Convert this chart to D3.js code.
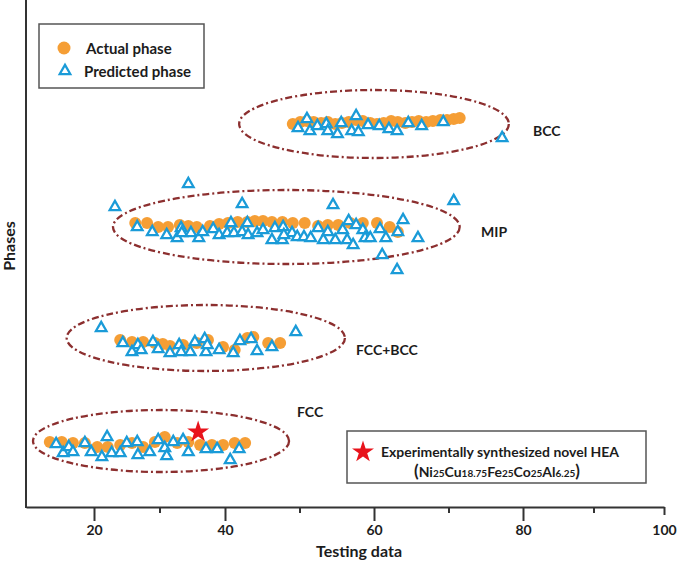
<!DOCTYPE html>
<html><head><meta charset="utf-8">
<script src="https://cdn.jsdelivr.net/npm/d3@7"></script>
<style>
body{margin:0;background:#fff}
svg{display:block}
text{font-family:Lato,'Open Sans',sans-serif;font-weight:bold;fill:#1c1c1c}
</style></head>
<body><svg id="c" width="685" height="570"></svg>
<script>
// ---------- data ----------
const xTicks = [20, 40, 60, 80, 100];
const xMinorTicks = [30, 50, 70, 90];
const xDomainStops = [10.3, 20, 40, 60, 80, 100];

const phaseNames = ["FCC", "FCC+BCC", "MIP", "BCC"];
const ellipseXMin = [11.3, 16.1, 22.9, 41.9];
const ellipseXMax = [48.6, 56.1, 71.5, 78.1];
const ellipseYMid = [0.63, 1.66, 2.77, 3.80];
const ellipseYHalf = [0.31, 0.33, 0.37, 0.34];

const actualFCC = [[13.7,0.62],[15.4,0.62],[17.0,0.61],[18.7,0.61],[20.5,0.57],[22.1,0.57],[24.0,0.59],[25.8,0.61],[27.5,0.57],[29.3,0.62],[30.8,0.67],[32.7,0.61],[34.4,0.62],[36.2,0.59],[38.0,0.59],[39.7,0.59],[41.3,0.61],[42.7,0.61]];
const predictedFCC = [[14.6,0.60],[15.6,0.51],[16.4,0.57],[17.0,0.52],[18.7,0.61],[19.6,0.52],[21.2,0.47],[22.0,0.67],[22.7,0.51],[24.0,0.51],[25.0,0.61],[26.6,0.62],[26.7,0.49],[28.5,0.52],[29.8,0.64],[30.8,0.56],[31.1,0.48],[32.1,0.62],[33.6,0.64],[34.4,0.52],[37.1,0.55],[38.8,0.55],[40.7,0.44],[41.9,0.55]];

const actualFCCBCC = [[24.0,1.64],[25.8,1.62],[27.5,1.62],[29.3,1.61],[30.5,1.60],[31.6,1.58],[33.6,1.59],[35.7,1.61],[37.4,1.64],[39.7,1.57],[41.3,1.54],[43.0,1.66],[43.8,1.67],[45.8,1.61],[47.4,1.61]];
const predictedFCCBCC = [[21.1,1.76],[49.5,1.72],[24.4,1.61],[25.8,1.52],[26.7,1.59],[27.2,1.54],[29.0,1.62],[29.8,1.55],[31.6,1.51],[33.0,1.59],[33.3,1.52],[34.7,1.52],[35.4,1.62],[36.9,1.65],[37.1,1.52],[37.3,1.59],[39.1,1.54],[41.1,1.51],[42.0,1.63],[43.5,1.65],[44.3,1.53],[46.3,1.57]];

const actualMIP = [[26.3,2.81],[28.1,2.81],[29.8,2.77],[31.3,2.77],[33.1,2.79],[34.4,2.78],[35.7,2.77],[37.7,2.78],[39.1,2.80],[40.4,2.81],[41.7,2.82],[43.0,2.82],[44.0,2.83],[45.1,2.83],[46.3,2.82],[47.7,2.82],[49.1,2.81],[50.7,2.81],[52.5,2.78],[53.8,2.79],[55.2,2.79],[56.8,2.81],[58.5,2.81],[60.4,2.81],[62.1,2.77],[63.2,2.72]];
const predictedMIP = [[34.4,3.20],[23.2,2.97],[42.3,3.00],[54.5,2.99],[70.7,3.03],[61.1,2.49],[63.1,2.34],[65.9,2.66],[63.9,2.84],
 [26.6,2.77],[28.9,2.72],[31.1,2.69],[32.7,2.66],[33.3,2.76],[33.4,2.71],[34.8,2.71],[36.0,2.66],[36.6,2.72],[38.2,2.75],[39.1,2.69],[40.3,2.71],[40.8,2.81],[41.2,2.71],[42.3,2.72],[43.0,2.81],[43.1,2.69],[44.3,2.71],[45.1,2.74],[46.3,2.64],[46.7,2.76],[47.7,2.64],[47.8,2.77],[49.0,2.71],[47.9,2.69],[49.7,2.67],[50.6,2.67],[51.5,2.66],[52.5,2.76],[53.2,2.64],[53.8,2.72],[54.8,2.64],[55.8,2.74],[56.4,2.64],[56.6,2.83],[57.2,2.59],[57.6,2.79],[58.5,2.74],[58.8,2.66],[59.5,2.66],[60.8,2.75],[61.6,2.66],[63.2,2.72]];

const actualBCC = [[49.1,3.80],[50.1,3.82],[51.0,3.83],[51.9,3.82],[52.9,3.81],[53.8,3.82],[54.8,3.80],[55.7,3.81],[56.6,3.82],[57.6,3.84],[58.5,3.83],[59.5,3.81],[60.4,3.80],[61.3,3.81],[62.3,3.83],[63.2,3.82],[64.2,3.81],[65.1,3.82],[66.0,3.83],[67.0,3.82],[67.9,3.83],[68.9,3.84],[69.8,3.84],[70.7,3.85],[71.5,3.86]];
const predictedBCC = [[51.0,3.85],[49.8,3.76],[51.4,3.73],[52.4,3.78],[53.6,3.80],[53.8,3.73],[55.1,3.70],[55.6,3.81],[57.6,3.88],[57.0,3.73],[57.9,3.72],[59.2,3.79],[60.7,3.78],[62.0,3.75],[63.1,3.73],[64.6,3.81],[66.4,3.78],[69.3,3.82],[77.2,3.66]];

const novelHEA = [35.9, 0.72];

// ---------- drawing ----------
const C_ACT = "#f59e35", C_PRED = "#1a9bd8", C_ELL = "#8c2f2f", C_AX = "#333";
const svg = d3.select("#c");
const x = d3.scaleLinear().domain(xDomainStops).range([26, 94, 225, 374, 523, 664]);
const y = d3.scaleLinear().domain([0, 5.04]).range([504, 0]);
const axisY = 507;

// ellipses
svg.append("g").selectAll("ellipse").data(d3.range(phaseNames.length)).join("ellipse")
  .attr("cx", i => (x(ellipseXMin[i]) + x(ellipseXMax[i])) / 2)
  .attr("rx", i => (x(ellipseXMax[i]) - x(ellipseXMin[i])) / 2)
  .attr("cy", i => y(ellipseYMid[i]))
  .attr("ry", i => y(0) - y(ellipseYHalf[i]))
  .attr("fill", "none").attr("stroke", C_ELL).attr("stroke-width", 2.3)
  .attr("stroke-dasharray", "7 3 2 3");

const actualAll = [...actualFCC, ...actualFCCBCC, ...actualMIP, ...actualBCC];
const predictedAll = [...predictedFCC, ...predictedFCCBCC, ...predictedMIP, ...predictedBCC];

svg.append("g").selectAll("circle").data(actualAll).join("circle")
  .attr("cx", d => x(d[0])).attr("cy", d => y(d[1])).attr("r", 6)
  .attr("fill", C_ACT);

const tri = d3.symbol(d3.symbolTriangle, 48);
svg.append("g").selectAll("path").data(predictedAll).join("path")
  .attr("d", tri).attr("transform", d => `translate(${x(d[0])},${y(d[1])})`)
  .attr("fill", "#fff").attr("stroke", C_PRED).attr("stroke-width", 2.3);

const star = d3.symbol(d3.symbolStar, 150);
svg.append("path").attr("d", star)
  .attr("transform", `translate(${x(novelHEA[0])},${y(novelHEA[1])})`)
  .attr("fill", "#e8131b");

// axes
const gx = svg.append("g").attr("transform", `translate(0,${axisY})`)
  .call(d3.axisBottom(x).tickValues(xTicks).tickSize(14).tickSizeOuter(0).tickPadding(4));
gx.select(".domain").attr("stroke", C_AX).attr("stroke-width", 2);
gx.selectAll(".tick line").attr("stroke", C_AX).attr("stroke-width", 2)
  .attr("y2", d => d === 100 ? 8 : 14);
gx.selectAll(".tick text").style("font-size", "14px").attr("fill", "#1c1c1c")
  .style("font-family", "Lato,sans-serif").style("font-weight", "bold");
const gm = svg.append("g").attr("transform", `translate(0,${axisY})`)
  .call(d3.axisBottom(x).tickValues(xMinorTicks).tickSize(6).tickFormat(""));
gm.select(".domain").remove();
gm.selectAll(".tick line").attr("stroke", C_AX).attr("stroke-width", 2);

svg.append("line").attr("x1", 26).attr("x2", 26).attr("y1", 0).attr("y2", axisY + 1)
  .attr("stroke", C_AX).attr("stroke-width", 2);

svg.append("text").attr("x", 359).attr("y", 557).attr("text-anchor", "middle")
  .style("font-size", "16px").text("Testing data");
svg.append("text").attr("transform", "translate(15,246) rotate(-90)").attr("text-anchor", "middle")
  .style("font-size", "16px").text("Phases");

// phase labels
const phaseLabelPos = [[297, 411], [356, 349], [481, 231], [533, 130]];
svg.append("g").selectAll("text").data(phaseNames).join("text")
  .attr("x", (d, i) => phaseLabelPos[i][0]).attr("y", (d, i) => phaseLabelPos[i][1])
  .attr("dominant-baseline", "central").style("font-size", "14px").text(d => d);

// legend
const lg = svg.append("g");
lg.append("rect").attr("x", 39).attr("y", 24).attr("width", 165).attr("height", 64)
  .attr("fill", "#fff").attr("stroke", "#555").attr("stroke-width", 1.5);
lg.append("circle").attr("cx", 64).attr("cy", 48).attr("r", 6.5).attr("fill", C_ACT);
lg.append("text").attr("x", 86).attr("y", 48).attr("dominant-baseline", "central")
  .style("font-size", "15px").text("Actual phase");
lg.append("path").attr("d", tri).attr("transform", "translate(65,71)")
  .attr("fill", "#fff").attr("stroke", C_PRED).attr("stroke-width", 2.3);
lg.append("text").attr("x", 84).attr("y", 71).attr("dominant-baseline", "central")
  .style("font-size", "15px").text("Predicted phase");

// annotation box
const an = svg.append("g");
an.append("rect").attr("x", 347).attr("y", 431).attr("width", 299).attr("height", 52)
  .attr("fill", "#fff").attr("stroke", "#555").attr("stroke-width", 1.5);
an.append("path").attr("d", star).attr("transform", "translate(363,452)").attr("fill", "#e8131b");
an.append("text").attr("x", 381).attr("y", 452).attr("dominant-baseline", "central")
  .attr("textLength", 238).attr("lengthAdjust", "spacingAndGlyphs")
  .style("font-size", "13.5px").text("Experimentally synthesized novel HEA");
const formula = [["(", 17], ["Ni", 14], ["25", 10], ["Cu", 14], ["18.75", 10], ["Fe", 14], ["25", 10], ["Co", 14], ["25", 10], ["Al", 14], ["6.25", 10], [")", 17]];
const ft = an.append("text").attr("x", 497).attr("y", 477).attr("text-anchor", "middle");
ft.selectAll("tspan").data(formula).join("tspan").style("font-size", d => d[1] + "px").text(d => d[0]);
</script></body></html>
